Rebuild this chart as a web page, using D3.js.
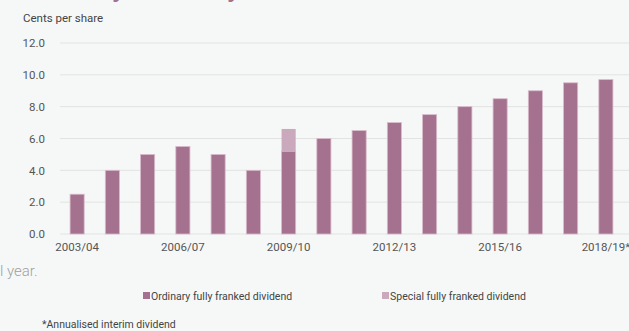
<!DOCTYPE html>
<html>
<head>
<meta charset="utf-8">
<script src="https://cdn.jsdelivr.net/npm/d3@7"></script>
<style>
body { margin: 0; background: #f6f8f8; }
svg { display: block; font-family: Roboto, "Noto Sans", sans-serif; }
</style>
</head>
<body>
<svg id="chart" width="629" height="331"></svg>
<script>
var years = ["2003/04","2004/05","2005/06","2006/07","2007/08","2008/09","2009/10","2010/11",
             "2011/12","2012/13","2013/14","2014/15","2015/16","2016/17","2017/18","2018/19*"];
var ordinary = [2.5, 4.0, 5.0, 5.5, 5.0, 4.0, 5.2, 6.0, 6.5, 7.0, 7.5, 8.0, 8.5, 9.0, 9.5, 9.7];
var special  = [0, 0, 0, 0, 0, 0, 1.4, 0, 0, 0, 0, 0, 0, 0, 0, 0];
var yTicks = [0, 2, 4, 6, 8, 10, 12];
var shownYears = ["2003/04","2006/07","2009/10","2012/13","2015/16","2018/19*"];

var cOrd = "#a4728e", cSpec = "#cba9bc";

var svg = d3.select("#chart");

var x = d3.scaleBand().domain(years).range([59.5, 623.5]).paddingInner(0.6).paddingOuter(0.3);
var y = d3.scaleLinear().domain([0, 12]).range([234, 43]);

// title descenders peeking in at the top
svg.append("text").attr("x", 112).attr("y", -3).attr("font-size", 26).attr("font-weight", "bold")
    .attr("fill", cOrd).text("y");
svg.append("text").attr("x", 227).attr("y", -3).attr("font-size", 26).attr("font-weight", "bold")
    .attr("fill", cOrd).text("y");

svg.append("text").attr("x", 23).attr("y", 22).attr("font-size", 11.5).attr("fill", "#444")
    .text("Cents per share");

// grid
var gGrid = svg.append("g");
gGrid.selectAll("line").data(yTicks).enter().append("line")
    .attr("x1", 60).attr("x2", 629)
    .attr("y1", function(d){ return y(d); }).attr("y2", function(d){ return y(d); })
    .attr("stroke", "#e2e2e2").attr("stroke-width", 1);

var yAxis = svg.append("g").attr("transform", "translate(48,0)")
    .call(d3.axisLeft(y).tickValues(yTicks).tickSize(0).tickFormat(d3.format(".1f")));
yAxis.select(".domain").remove();
yAxis.selectAll("text").attr("font-size", 11.5).attr("fill", "#555").attr("font-family", "Roboto, sans-serif");

// bars
var gBars = svg.append("g");
gBars.selectAll("rect.ord").data(years).enter().append("rect")
    .attr("class", "ord")
    .attr("x", function(d){ return x(d); })
    .attr("width", x.bandwidth())
    .attr("y", function(d, i){ return y(ordinary[i]); })
    .attr("height", function(d, i){ return y(0) - y(ordinary[i]); })
    .attr("fill", cOrd).attr("stroke", "#d9bccb").attr("stroke-width", 0.8);
gBars.selectAll("rect.spec").data(years.filter(function(d, i){ return special[i] > 0; })).enter().append("rect")
    .attr("class", "spec")
    .attr("x", function(d){ return x(d); })
    .attr("width", x.bandwidth())
    .attr("y", function(d){ var i = years.indexOf(d); return y(ordinary[i] + special[i]); })
    .attr("height", function(d){ var i = years.indexOf(d); return y(ordinary[i]) - y(ordinary[i] + special[i]); })
    .attr("fill", cSpec);

var xAxis = svg.append("g").attr("transform", "translate(0,240)")
    .call(d3.axisBottom(x).tickValues(shownYears).tickSize(0));
xAxis.select(".domain").remove();
xAxis.selectAll("text").attr("font-size", 11.5).attr("fill", "#555").attr("font-family", "Roboto, sans-serif");

svg.append("text").attr("x", 0).attr("y", 276).attr("font-size", 15).attr("fill", "#a0a0a0")
    .attr("font-weight", 300).text("l year.");

// legend
var legend = [{label: "Ordinary fully franked dividend", color: cOrd, x: 143},
              {label: "Special fully franked dividend", color: cSpec, x: 382}];
var lg = svg.append("g").selectAll("g").data(legend).enter().append("g")
    .attr("transform", function(d){ return "translate(" + d.x + ",292)"; });
lg.append("rect").attr("width", 7).attr("height", 7).attr("fill", function(d){ return d.color; });
lg.append("text").attr("x", 8).attr("y", 7.5).attr("font-size", 10.5).attr("fill", "#444")
    .text(function(d){ return d.label; });

svg.append("text").attr("x", 42).attr("y", 328).attr("font-size", 10.5).attr("fill", "#444")
    .text("*Annualised interim dividend");
</script>
</body>
</html>
